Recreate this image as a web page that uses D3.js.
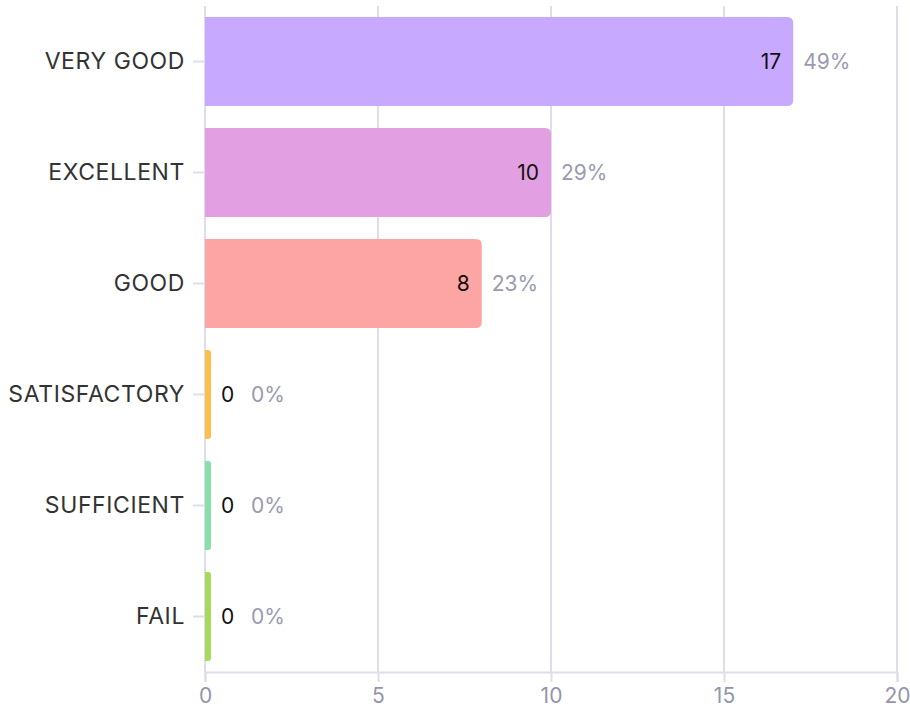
<!DOCTYPE html>
<html>
<head>
<meta charset="utf-8">
<script src="https://cdn.jsdelivr.net/npm/d3@7"></script>
<style>
  html, body { margin: 0; padding: 0; background: #fff; }
  svg { display: block; font-family: Inter, "Noto Sans", sans-serif; }
</style>
</head>
<body>
<svg id="chart" width="910" height="709"></svg>
<script>
const categories = ["VERY GOOD", "EXCELLENT", "GOOD", "SATISFACTORY", "SUFFICIENT", "FAIL"];
const counts = [17, 10, 8, 0, 0, 0];
const percents = ["49%", "29%", "23%", "0%", "0%", "0%"];
const colors = ["#c7a9ff", "#e2a0e2", "#fca5a4", "#fdbf4b", "#87dfa9", "#a8d95a"];
const xTicks = [0, 5, 10, 15, 20];

const W = 910, H = 709;
const margin = { top: 6, right: 13, bottom: 37, left: 205 };
const svg = d3.select("#chart");
const x = d3.scaleLinear().domain([0, 20]).range([margin.left, W - margin.right]);
const y = d3.scaleBand().domain(categories).range([margin.top, H - margin.bottom])
  .paddingInner(0.2).paddingOuter(0.1);

const gridColor = "#dedeea";

// vertical gridlines
svg.append("g").selectAll("line").data(xTicks).join("line")
  .attr("x1", d => x(d)).attr("x2", d => x(d))
  .attr("y1", margin.top).attr("y2", H - margin.bottom)
  .attr("stroke", gridColor).attr("stroke-width", 2);

// bottom axis
const xAxis = svg.append("g")
  .attr("transform", `translate(0,${H - margin.bottom})`)
  .call(d3.axisBottom(x).tickValues(xTicks).tickSize(10).tickPadding(6));
xAxis.select(".domain").attr("stroke", gridColor).attr("stroke-width", 2);
xAxis.selectAll(".tick line").attr("stroke", gridColor).attr("stroke-width", 2);
xAxis.selectAll(".tick text").attr("fill", "#9494aa").attr("font-size", 21)
  .attr("font-family", "Inter, sans-serif");

// left axis
const yAxis = svg.append("g")
  .attr("transform", `translate(${margin.left},0)`)
  .call(d3.axisLeft(y).tickSize(12).tickPadding(8));
yAxis.select(".domain").remove();
yAxis.selectAll(".tick line").attr("stroke", gridColor).attr("stroke-width", 2);
yAxis.selectAll(".tick text").attr("fill", "#333333").attr("font-size", 23)
  .attr("letter-spacing", 0.6)
  .attr("font-family", "Inter, sans-serif");

const data = categories.map((c, i) => ({ c, v: counts[i], p: percents[i], col: colors[i] }));
const minW = 6;
const barEnd = d => Math.max(x(d.v), x(0) + minW);

// bars: rounded right corners
function barPath(d) {
  const x0 = x(0), x1 = barEnd(d), y0 = y(d.c), h = y.bandwidth();
  const r = Math.min(6, (x1 - x0) / 2);
  return `M${x0},${y0} H${x1 - r} Q${x1},${y0} ${x1},${y0 + r} V${y0 + h - r} Q${x1},${y0 + h} ${x1 - r},${y0 + h} H${x0} Z`;
}
svg.append("g").selectAll("path").data(data).join("path")
  .attr("d", barPath).attr("fill", d => d.col);

// value labels
const lbl = svg.append("g").attr("font-family", "Inter, sans-serif").attr("font-size", 21);
lbl.selectAll("text.val").data(data).join("text").attr("class", "val")
  .attr("x", d => d.v > 0 ? barEnd(d) - 12 : barEnd(d) + 10)
  .attr("y", d => y(d.c) + y.bandwidth() / 2)
  .attr("dy", "0.35em")
  .attr("text-anchor", d => d.v > 0 ? "end" : "start")
  .attr("fill", "#111")
  .text(d => d.v);
lbl.selectAll("text.pct").data(data).join("text").attr("class", "pct")
  .attr("x", d => d.v > 0 ? barEnd(d) + 10 : barEnd(d) + 40)
  .attr("y", d => y(d.c) + y.bandwidth() / 2)
  .attr("dy", "0.35em")
  .attr("fill", "#9a9ab0")
  .text(d => d.p);
</script>
</body>
</html>
